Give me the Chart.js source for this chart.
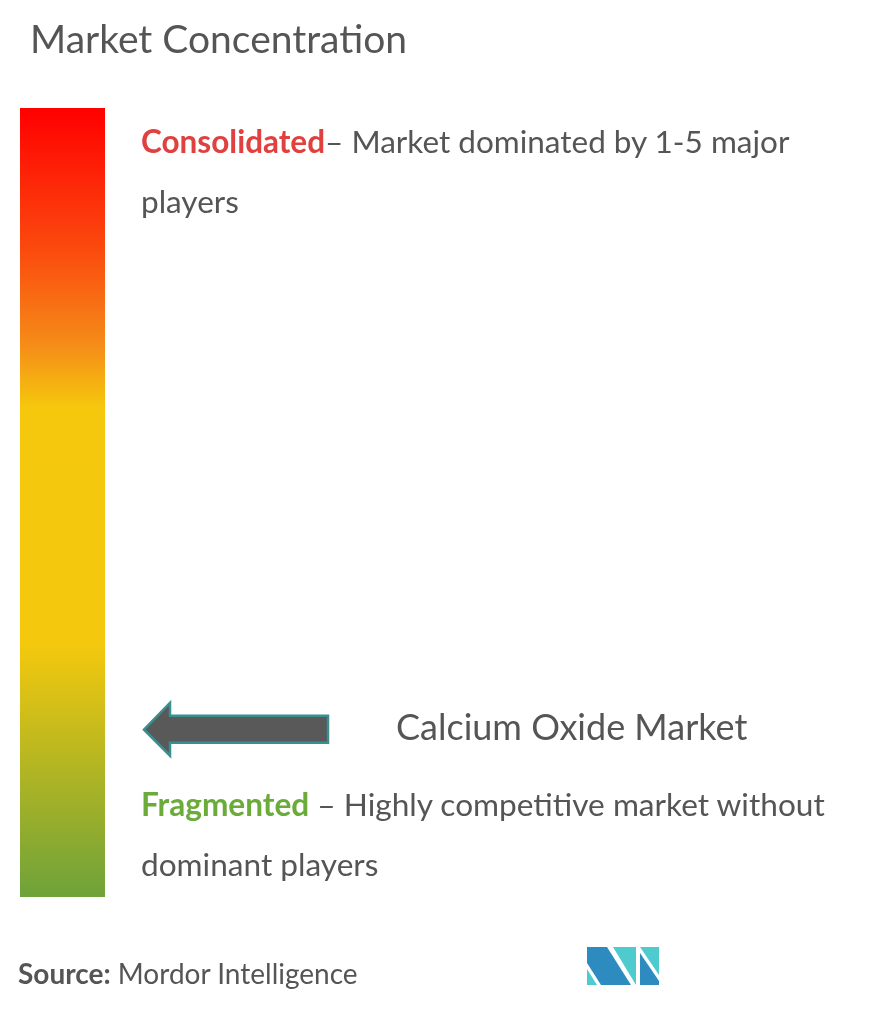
<!DOCTYPE html>
<html><head><meta charset="utf-8">
<script src="https://cdn.jsdelivr.net/npm/chart.js@4"></script>
<style>
html,body{margin:0;padding:0;background:#fff;width:885px;height:1010px;overflow:hidden;font-family:Lato,"Open Sans",sans-serif;}
#wrap{position:absolute;left:0;top:0;width:885px;height:1010px;}
.t{position:absolute;color:#555;white-space:nowrap;}
</style></head><body>
<div id="wrap"><canvas id="c" width="885" height="1010"></canvas></div>
<div class="t" style="left:30px;top:15px;font-size:39px;color:#555;">Market Concentration</div>
<div class="t" style="left:141px;top:111px;font-size:31.5px;line-height:60px;"><span style="color:#e0413f;font-weight:bold;">Consolidated</span>– Market dominated by 1-5 major<br>players</div>
<div class="t" style="left:396px;top:704px;font-size:36px;">Calcium Oxide Market</div>
<div class="t" style="left:141px;top:774px;font-size:31.6px;line-height:60px;"><span style="color:#6aab3a;font-weight:bold;">Fragmented</span> – Highly competitive market without<br>dominant players</div>
<div class="t" style="left:18px;top:956px;font-size:28px;"><b>Source:</b> Mordor Intelligence</div>
<script>
const categories = ["Market Concentration"];
const concentrationValues = [1];
const marketPosition = [0.212]; // fraction from bottom of bar
const extras = {
  id:'extras',
  afterDraw(chart){
    const ctx = chart.ctx, a = chart.chartArea;
    const y = a.bottom - marketPosition[0]*(a.bottom-a.top);
    ctx.save();
    ctx.beginPath();
    ctx.moveTo(144,y);ctx.lineTo(170,y-27);ctx.lineTo(170,y-14);ctx.lineTo(328,y-14);
    ctx.lineTo(328,y+13);ctx.lineTo(170,y+13);ctx.lineTo(170,y+26);ctx.closePath();
    ctx.fillStyle='#595959';ctx.fill();ctx.strokeStyle='#3a9090';ctx.lineWidth=2.5;ctx.stroke();
    const lx=587, ly=947;
    ctx.fillStyle='#2e8bc0';
    ctx.beginPath();ctx.moveTo(lx,ly);ctx.lineTo(lx+20,ly);ctx.lineTo(lx+44,ly+38);ctx.lineTo(lx+14,ly+38);ctx.lineTo(lx,ly+16);ctx.closePath();ctx.fill();
    ctx.fillStyle='#4ecbcf';
    ctx.beginPath();ctx.moveTo(lx,ly+22);ctx.lineTo(lx+10,ly+38);ctx.lineTo(lx,ly+38);ctx.closePath();ctx.fill();
    ctx.beginPath();ctx.moveTo(lx+26,ly);ctx.lineTo(lx+49,ly);ctx.lineTo(lx+49,ly+38);ctx.closePath();ctx.fill();
    ctx.beginPath();ctx.moveTo(lx+53,ly);ctx.lineTo(lx+72,ly);ctx.lineTo(lx+72,ly+28);ctx.closePath();ctx.fill();
    ctx.fillStyle='#2e8bc0';
    ctx.beginPath();ctx.moveTo(lx+53,ly+6);ctx.lineTo(lx+72,ly+34);ctx.lineTo(lx+72,ly+38);ctx.lineTo(lx+53,ly+38);ctx.closePath();ctx.fill();
    ctx.restore();
  }
};
new Chart(document.getElementById('c'),{
  type:'bar',
  data:{labels:categories,datasets:[{data:concentrationValues,borderWidth:0,
    backgroundColor(ctx){
      const a=ctx.chart.chartArea; if(!a) return '#f5c90f';
      const g=ctx.chart.ctx.createLinearGradient(0,a.top,0,a.bottom);
      g.addColorStop(0,'#ff0000');g.addColorStop(0.18,'#fb4a0e');g.addColorStop(0.3,'#f58c18');
      g.addColorStop(0.38,'#f5c80d');g.addColorStop(0.68,'#f4c80d');g.addColorStop(1,'#6ea23a');
      return g;},
    barPercentage:1,categoryPercentage:1}]},
  options:{responsive:false,animation:false,
    layout:{padding:{left:20,right:780,top:108,bottom:113}},
    plugins:{legend:{display:false},tooltip:{enabled:false}},
    scales:{x:{display:false},y:{display:false,min:0,max:1}}},
  plugins:[extras]
});
</script></body></html>
